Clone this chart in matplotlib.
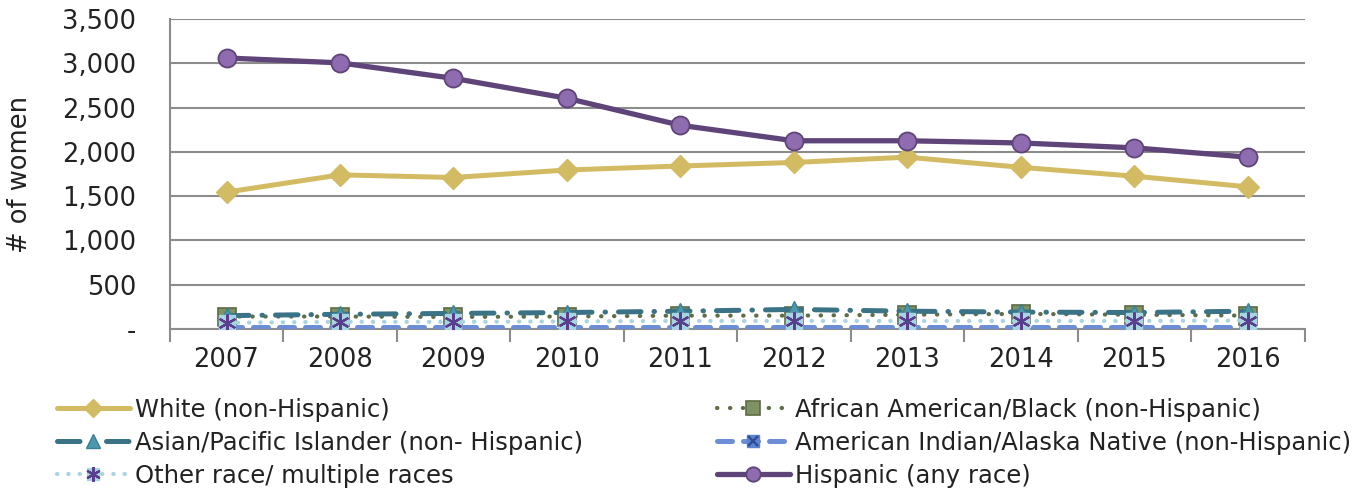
import numpy as np
import matplotlib
matplotlib.use("Agg")
import matplotlib.pyplot as plt
from matplotlib.legend_handler import HandlerTuple
from matplotlib.ticker import FuncFormatter, FixedLocator

plt.rcParams['font.family'] = ['DejaVu Sans']

# data
years = ['2007', '2008', '2009', '2010', '2011', '2012', '2013', '2014', '2015', '2016']
white = [1545, 1740, 1710, 1795, 1840, 1880, 1940, 1825, 1725, 1605]
black = [140, 140, 135, 140, 150, 150, 160, 170, 160, 150]
asian = [150, 165, 175, 185, 200, 220, 200, 190, 185, 200]
aian = [20, 20, 20, 20, 20, 20, 20, 20, 20, 20]
other = [70, 80, 80, 85, 90, 90, 90, 90, 90, 95]
hispanic = [3060, 3005, 2830, 2605, 2300, 2125, 2125, 2100, 2045, 1940]

label_white = 'White (non-Hispanic)'
label_black = 'African American/Black (non-Hispanic)'
label_asian = 'Asian/Pacific Islander (non- Hispanic)'
label_aian = 'American Indian/Alaska Native (non-Hispanic)'
label_other = 'Other race/ multiple races'
label_hisp = 'Hispanic (any race)'

grid_col = '#8C8C8C'
text_col = '#222222'

fig = plt.figure(figsize=(13.69, 4.88), dpi=100)
ax = fig.add_axes([0.124, 0.326, 0.829, 0.635])
x = np.arange(len(years))

# line styles, roughly like the excel defaults used in the original
h_white, = ax.plot(x, white, color='#D2BB62', lw=3.6, marker='D', ms=11,
                   mfc='#D2BB62', mec='#D2BB62', solid_capstyle='round', zorder=5)
h_black, = ax.plot(x, black, color='#5E6E48', lw=3.0, dashes=(0.1, 3.0),
                   dash_capstyle='round', marker='s', ms=13, mfc='#7E9363',
                   mec='#5E6B45', mew=1.2, zorder=3)
h_asian, = ax.plot(x, asian, color='#3A7385', lw=3.6, dashes=(4.5, 2.6, 0.1, 2.6),
                   dash_capstyle='round', marker='^', ms=12, mfc='#4C98AD',
                   mec='#3A7F94', mew=1.0, zorder=4)
h_aian, = ax.plot(x, aian, color='#6C8ED6', lw=3.6, dashes=(3.0, 2.2),
                  dash_capstyle='round', marker='s', ms=11, mfc='#5B82CF',
                  mec='#5B82CF', zorder=4)
h_aian_x, = ax.plot(x, aian, ls='none', marker='x', ms=9, mec='#2E4C94', mew=1.6, zorder=4.5)
h_other, = ax.plot(x, other, color='#A8D4E2', lw=3.0, dashes=(0.1, 2.6),
                   dash_capstyle='round', marker='s', ms=11, mfc='#A8D4E2',
                   mec='#A8D4E2', zorder=5.5)
h_other_s, = ax.plot(x, other, ls='none', marker=(6, 2, 0), ms=13,
                     mec='#5A3E8E', mew=1.6, zorder=6)
h_hisp, = ax.plot(x, hispanic, color='#5E4478', lw=3.8, marker='o', ms=13,
                  mfc='#8F6BAF', mec='#5E4478', mew=1.3, solid_capstyle='round', zorder=7)

ax.set_xlim(-0.5, len(years) - 0.5)
ax.set_ylim(0, 3500)
ax.set_yticks(np.arange(0, 3501, 500))
ax.yaxis.set_major_formatter(FuncFormatter(lambda v, p: '-' if v == 0 else f'{int(v):,}'))
ax.set_xticks(x)
ax.set_xticklabels(years)
ax.xaxis.set_minor_locator(FixedLocator(np.arange(-0.5, len(years), 1.0)))
ax.tick_params(axis='x', which='major', length=0, labelsize=18.5, pad=13, colors=text_col)
ax.tick_params(axis='x', which='minor', length=9, width=1.5, color=grid_col, direction='out')
ax.tick_params(axis='y', length=0, labelsize=18.5, pad=24, colors=text_col)

ax.grid(axis='y', color=grid_col, lw=1.5)
ax.set_axisbelow(True)
for s in ['top', 'right']:
    ax.spines[s].set_visible(False)
ax.spines['left'].set_color(grid_col)
ax.spines['left'].set_linewidth(1.5)
ax.spines['bottom'].set_color(grid_col)
ax.spines['bottom'].set_linewidth(1.5)
ax.set_ylabel('# of women', fontsize=18.5, labelpad=21, color=text_col)

leg_kw = dict(frameon=False, fontsize=17.5, handlelength=3.0, handletextpad=0.2,
              labelspacing=0.36, borderpad=0, borderaxespad=0, markerscale=0.8,
              handler_map={tuple: HandlerTuple(ndivide=1)})
l1 = fig.legend([h_white, h_asian, (h_other, h_other_s)], [label_white, label_asian, label_other],
                loc='upper left', bbox_to_anchor=(57 / 1369, 1 - 398 / 488), **leg_kw)
l2 = fig.legend([h_black, (h_aian, h_aian_x), h_hisp], [label_black, label_aian, label_hisp],
                loc='upper left', bbox_to_anchor=(717 / 1369, 1 - 398 / 488), **leg_kw)
for lg in (l1, l2):
    for t in lg.get_texts():
        t.set_color(text_col)

fig.savefig('out.png', dpi=100)
